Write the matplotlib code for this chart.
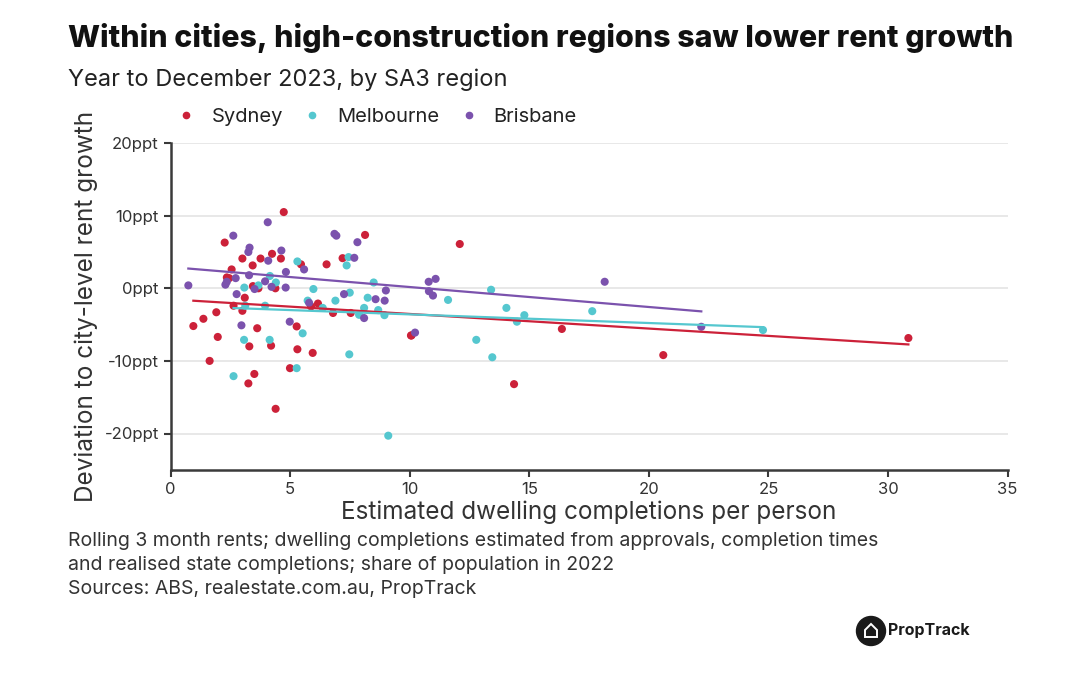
import numpy as np
import matplotlib
matplotlib.use('Agg')
import matplotlib.pyplot as plt
from matplotlib.lines import Line2D
from matplotlib.patches import Ellipse, Polygon

plt.rcParams['font.family'] = ['Inter', 'DejaVu Sans']

# Sydney SA3 regions
syd_x = [4.73, 2.26, 3.0, 3.76, 4.24, 4.61, 3.43, 2.55, 2.45, 2.35, 3.44, 3.67, 4.38,
         3.1, 2.63, 3.0, 0.95, 1.37, 1.91, 1.97, 1.63, 3.62, 3.29, 4.2, 3.5, 3.25,
         4.39, 5.27, 5.3, 4.99, 5.94, 5.45, 5.87, 6.16, 6.52, 7.19, 8.13, 6.79, 7.53,
         10.07, 12.09, 10.05, 16.36, 14.36, 20.6, 30.85]
syd_y = [10.5, 6.3, 4.1, 4.1, 4.75, 4.1, 3.15, 2.6, 1.4, 1.5, 0.3, 0.0, 0.0,
         -1.3, -2.4, -3.1, -5.2, -4.2, -3.3, -6.7, -10.0, -5.5, -8.0, -7.9, -11.8, -13.1,
         -16.6, -5.25, -8.4, -11.0, -8.9, 3.3, -2.5, -2.1, 3.3, 4.15, 7.35, -3.4, -3.4,
         -6.5, 6.1, -6.5, -5.6, -13.2, -9.2, -6.85]

# Melbourne SA3 regions
mel_x = [5.3, 7.44, 7.36, 8.49, 4.15, 4.4, 3.67, 3.08, 3.95, 5.97, 5.73, 6.89, 7.49,
         8.24, 3.12, 6.36, 8.09, 7.88, 8.68, 8.94, 5.52, 3.07, 4.14, 7.47, 5.27, 2.63,
         9.1, 13.4, 11.6, 14.04, 14.79, 14.48, 17.63, 12.78, 13.45, 24.77]
mel_y = [3.7, 4.3, 3.15, 0.8, 1.7, 0.8, 0.4, 0.1, -2.4, -0.1, -1.7, -1.7, -0.6,
         -1.3, -2.4, -2.7, -2.7, -3.65, -3.0, -3.7, -6.2, -7.1, -7.1, -9.1, -11.0, -12.1,
         -20.3, -0.2, -1.6, -2.7, -3.7, -4.6, -3.15, -7.1, -9.5, -5.75]

# Brisbane SA3 regions
bne_x = [0.74, 2.62, 4.06, 3.3, 3.25, 4.63, 4.08, 4.82, 3.28, 2.72, 2.29, 2.35, 3.95,
         4.22, 3.51, 4.81, 2.76, 5.58, 2.96, 4.98, 5.79, 6.85, 6.93, 7.81, 7.68, 7.25,
         8.57, 8.95, 9.0, 8.09, 10.22, 10.79, 11.08, 10.8, 10.97, 18.15, 22.19]
bne_y = [0.4, 7.25, 9.1, 5.6, 5.0, 5.2, 3.8, 2.25, 1.8, 1.4, 0.5, 0.9, 0.96,
         0.2, -0.1, 0.1, -0.8, 2.6, -5.1, -4.6, -2.0, 7.5, 7.25, 6.35, 4.2, -0.8,
         -1.5, -1.7, -0.3, -4.1, -6.1, 0.9, 1.3, -0.4, -1.0, 0.9, -5.3]

cities = ['Sydney', 'Melbourne', 'Brisbane']
colors = ['#cc2139', '#55c7cf', '#7b52ad']
xs = [syd_x, mel_x, bne_x]
ys = [syd_y, mel_y, bne_y]

fig = plt.figure(figsize=(10.8, 6.75), dpi=100)
ax = fig.add_axes([0.158, 0.304, 0.775, 0.484])

for x, y, c in zip(xs, ys, colors):
    ax.scatter(x, y, s=34, color=c, edgecolors='none', zorder=3)

# trend lines (least squares fit on each city)
for x, y, c in zip(xs, ys, colors):
    x = np.array(x)
    m, b = np.polyfit(x, y, 1)
    xx = np.array([x.min(), x.max()])
    ax.plot(xx, m * xx + b, color=c, lw=1.6, zorder=4)

ax.set_xlim(0, 35)
ax.set_ylim(-25, 20)
ax.set_xticks(range(0, 36, 5))
ax.set_yticks([-20, -10, 0, 10, 20])
ax.set_yticklabels(['-20ppt', '-10ppt', '0ppt', '10ppt', '20ppt'])
ax.grid(axis='y', color='#e4e4e4', lw=1.2, zorder=0)
for s in ['top', 'right']:
    ax.spines[s].set_visible(False)
for s in ['left', 'bottom']:
    ax.spines[s].set_color('#3a3a3a')
    ax.spines[s].set_linewidth(1.8)
ax.tick_params(axis='both', colors='#3a3a3a', labelcolor='#333333', labelsize=12,
               length=5, width=1.5)
ax.set_xlabel('Estimated dwelling completions per person', fontsize=17.5,
              color='#333333', labelpad=3)
ax.set_ylabel('Deviation to city-level rent growth', fontsize=17.5,
              color='#333333', labelpad=5)

fig.text(0.063, 0.944, 'Within cities, high-construction regions saw lower rent growth',
         fontsize=21.8, fontweight='heavy', color='#111111', va='center')
fig.text(0.063, 0.882, 'Year to December 2023, by SA3 region',
         fontsize=17, color='#222222', va='center')

handles = [Line2D([], [], marker='o', ls='none', color=c, markersize=4.5) for c in colors]
fig.legend(handles, cities, loc='center left', bbox_to_anchor=(0.150, 0.826), ncol=3,
           frameon=False, fontsize=14.5, handlelength=0.6, handletextpad=0.95,
           columnspacing=1.15, labelcolor='#222222')

notes = ['Rolling 3 month rents; dwelling completions estimated from approvals, completion times',
         'and realised state completions; share of population in 2022',
         'Sources: ABS, realestate.com.au, PropTrack']
for i, t in enumerate(notes):
    fig.text(0.063, 0.198 - i * 0.035, t, fontsize=14, color='#333333', va='center')

# PropTrack logo
cx, cy = 871 / 1080, 1 - 631 / 675
fig.patches.append(Ellipse((cx, cy), 29 / 1080, 29 / 675, transform=fig.transFigure,
                           color='#1a1a1a'))
hx = [cx - 6 / 1080, cx - 6 / 1080, cx, cx + 6 / 1080, cx + 6 / 1080]
hy = [cy - 6 / 675, cy + 1 / 675, cy + 7 / 675, cy + 1 / 675, cy - 6 / 675]
fig.patches.append(Polygon(list(zip(hx, hy)), closed=True, transform=fig.transFigure,
                           facecolor='none', edgecolor='white', lw=1.4))
fig.text(888 / 1080, cy, 'PropTrack', fontsize=11.5, fontweight='bold',
         color='#1a1a1a', va='center')

fig.savefig('out.png', dpi=100, facecolor='white')
